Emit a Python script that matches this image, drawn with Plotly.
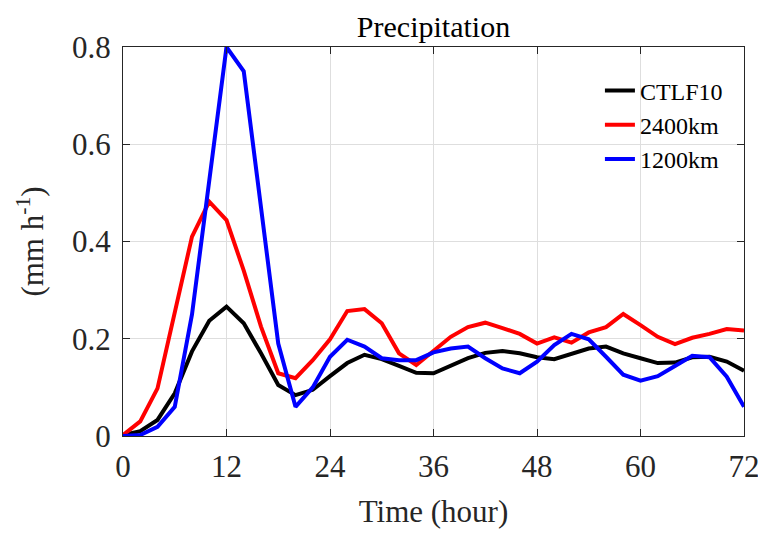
import plotly.graph_objects as go

hours = list(range(0, 73, 2))
ctlf10 = [0.002, 0.01, 0.033, 0.088, 0.174, 0.237, 0.266, 0.232, 0.17, 0.105, 0.084, 0.095, 0.123,
          0.15, 0.167, 0.158, 0.144, 0.13, 0.129, 0.144, 0.16, 0.171, 0.175, 0.17,
          0.162, 0.158, 0.17, 0.18, 0.184, 0.17, 0.16, 0.15, 0.151, 0.162, 0.163, 0.153, 0.134]
km2400 = [0.002, 0.03, 0.098, 0.25, 0.41, 0.482, 0.444, 0.34, 0.225, 0.129, 0.119, 0.156, 0.199,
          0.257, 0.261, 0.232, 0.17, 0.146, 0.174, 0.204, 0.224, 0.233, 0.222, 0.21,
          0.19, 0.203, 0.192, 0.213, 0.224, 0.251, 0.228, 0.204, 0.189, 0.202, 0.21, 0.22, 0.217]
km1200 = [0.0, 0.002, 0.019, 0.06, 0.25, 0.53, 0.8, 0.75, 0.47, 0.19, 0.06, 0.10, 0.163,
          0.198, 0.184, 0.16, 0.156, 0.156, 0.172, 0.18, 0.184, 0.16, 0.139, 0.129,
          0.153, 0.187, 0.21, 0.199, 0.163, 0.126, 0.114, 0.123, 0.144, 0.165, 0.162, 0.122, 0.06]

series_names = ["CTLF10", "2400km", "1200km"]
series_colors = ["#000000", "#ff0000", "#0000ff"]
x_ticks = [0, 12, 24, 36, 48, 60, 72]
y_ticks = [0, 0.2, 0.4, 0.6, 0.8]
y_tick_labels = ["0", "0.2", "0.4", "0.6", "0.8"]

FONT = "Liberation Serif, Times New Roman, serif"

fig = go.Figure()
for name, vals, col in zip(series_names, [ctlf10, km2400, km1200], series_colors):
    fig.add_trace(go.Scatter(x=hours, y=vals, mode="lines", name=name,
                             line=dict(color=col, width=4)))

axis_common = dict(showline=True, linecolor="#262626", linewidth=1.3, mirror="ticks",
                   ticks="inside", ticklen=7, tickcolor="#262626", tickwidth=1.3,
                   showgrid=True, gridcolor="#dedede", gridwidth=1, zeroline=False,
                   automargin=False,
                   tickfont=dict(family=FONT, size=31, color="#262626"))

# page body has an 8px default margin, so the figure is drawn at (8, 8)
fig.update_layout(
    width=758, height=529,
    margin=dict(l=115, r=22, t=39, b=101),
    paper_bgcolor="white", plot_bgcolor="white",
    font=dict(family=FONT, color="#262626"),
    title=dict(text="Precipitation", x=0.5, xref="paper", xanchor="center",
               y=1, yref="paper", yanchor="bottom", pad=dict(b=10),
               font=dict(family=FONT, size=30, color="#000000")),
    xaxis=dict(range=[0, 72], tickvals=x_ticks, ticklabelstandoff=3,
               title=dict(text="Time (hour)", standoff=16,
                          font=dict(family=FONT, size=31, color="#262626")), **axis_common),
    yaxis=dict(range=[0, 0.8], tickvals=y_ticks, ticktext=y_tick_labels, ticklabelstandoff=5,
               title=dict(text="(mm h<sup>-1</sup>)", standoff=19,
                          font=dict(family=FONT, size=31, color="#262626")), **axis_common),
    legend=dict(x=0.768, y=0.945, xanchor="left", yanchor="top", bgcolor="rgba(0,0,0,0)",
                borderwidth=0, font=dict(family=FONT, size=24, color="#000000"),
                tracegroupgap=0, itemwidth=30),
    showlegend=True,
)

fig.write_html("out.html")
